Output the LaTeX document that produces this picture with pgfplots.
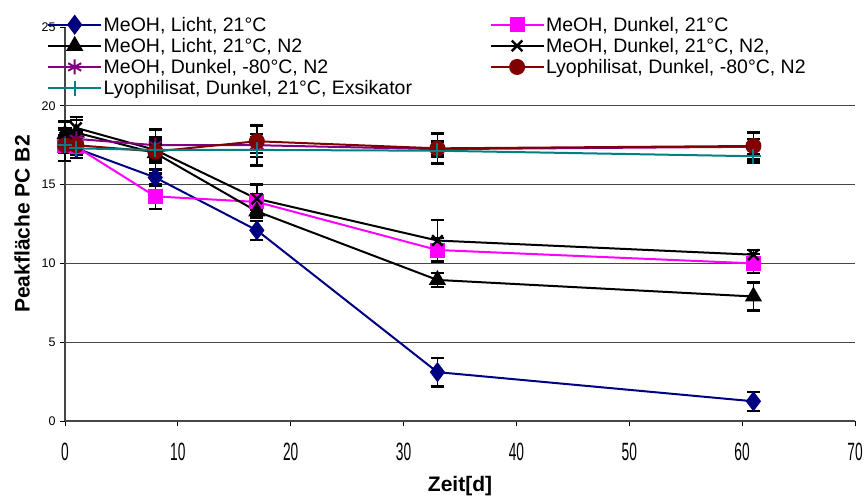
\documentclass[border=0pt]{standalone}
\usepackage{fontspec}
\setmainfont{Liberation Sans}
\usepackage{graphicx}
\usepackage{pgfplots}
\pgfplotsset{compat=1.18}
\usepackage{pgfplotstable}

\pgfplotstableread{
x y e
0 17.6 0.3
1 17.3 0.3
8 15.45 0.5
17 12.1 0.6
33 3.1 0.9
61 1.25 0.6
}\sA
\pgfplotstableread{
x y e
0 17.5 0.5
1 17.4 0.5
8 14.25 0.8
17 13.9 0.5
33 10.85 0.75
61 10.0 0.6
}\sB
\pgfplotstableread{
x y e
0 18.2 0.8
1 18.3 0.8
8 17.0 0.6
17 13.3 0.4
33 8.95 0.45
61 7.9 0.9
}\sC
\pgfplotstableread{
x y e
0 18.0 0.6
1 18.6 0.7
8 17.2 0.6
17 14.1 0.9
33 11.45 1.3
61 10.55 0.3
}\sD
\pgfplotstableread{
x y e
0 17.6 0.5
1 17.9 0.5
8 17.5 0.5
17 17.5 0.5
33 17.25 0.5
61 17.4 0.5
}\sE
\pgfplotstableread{
x y e
0 17.5 1.0
1 17.5 0.8
8 17.1 1.4
17 17.75 1.0
33 17.3 0.95
61 17.45 0.85
}\sF
\pgfplotstableread{
x y e
0 17.5 0.3
1 17.3 0.3
8 17.2 0.3
17 17.2 1.0
33 17.15 0.3
61 16.8 0.4
}\sG

\definecolor{sNavy}{RGB}{0,0,128}
\definecolor{sMag}{RGB}{255,0,255}
\definecolor{sPurp}{RGB}{128,0,128}
\definecolor{sRed}{RGB}{128,0,0}
\definecolor{sTeal}{RGB}{0,128,128}
\definecolor{gridc}{RGB}{70,70,70}

\begin{document}
\begin{tikzpicture}
\begin{axis}[
  scale only axis,
  width=790bp, height=394bp,
  xmin=0, xmax=70, ymin=0, ymax=25,
  xtick={0,10,...,70}, ytick={0,5,...,20},
  extra y ticks={25},
  extra y tick style={grid=none},
  axis lines=left,
  axis line style={-, gridc, line width=1.2bp},
  ymajorgrids,
  grid style={gridc, line width=1.2bp},
  tick style={black, line width=0.8bp},
  tick align=outside,
  major tick length=5bp,
  clip=false,
  /pgf/number format/assume math mode=true,
  yticklabel style={font=\fontsize{12.5bp}{14bp}\selectfont, xshift=-1bp},
  xticklabel={\scalebox{0.55}[1]{\pgfmathprintnumber{\tick}}},
  xticklabel style={font=\fontsize{25bp}{27bp}\selectfont, yshift=-14bp},
  xlabel={Zeit[d]},
  ylabel={Peakfläche PC B2},
  xlabel style={font=\bfseries\fontsize{21bp}{24bp}\selectfont, at={(axis description cs:0.5,-0.165)}, anchor=center},
  ylabel style={font=\bfseries\fontsize{21bp}{24bp}\selectfont, at={(axis description cs:-0.0544,0.5)}, anchor=center},
  legend columns=2,
  legend cell align=left,
  legend style={
    draw=none, fill=none, inner sep=2bp,
    at={(axis description cs:-0.0253,1.035)}, anchor=north west,
    font=\fontsize{19.5bp}{21bp}\selectfont,
    row sep=2.5bp,
    nodes={inner sep=1.5bp},
    /tikz/every even column/.append style={column sep=76bp},
  },
  legend image code/.code={\draw[mark repeat=2,mark phase=2] plot coordinates {(0bp,0bp)(26.5bp,0bp)(53bp,0bp)};},
  every axis plot/.append style={line width=2bp},
  error bars/y dir=both, error bars/y explicit,
  error bars/error bar style={black, line width=1.5bp, solid},
  error bars/error mark options={black, rotate=90, mark size=6.5bp, line width=2.5bp, solid},
]
\addplot[sNavy, mark=diamond*, mark size=8.5bp, mark options={solid, fill=sNavy}] table[x=x, y=y, y error=e] {\sA};
\addlegendentry{MeOH, Licht, 21°C}
\addplot[sMag, mark=square*, mark size=6.5bp, mark options={solid, fill=sMag}] table[x=x, y=y, y error=e] {\sB};
\addlegendentry{MeOH, Dunkel, 21°C}
\addplot[black, mark=triangle*, mark size=8bp, mark options={solid, fill=black}] table[x=x, y=y, y error=e] {\sC};
\addlegendentry{MeOH, Licht, 21°C, N2}
\addplot[black, mark=x, mark size=7.5bp, mark options={solid, line width=2.4bp}] table[x=x, y=y, y error=e] {\sD};
\addlegendentry{MeOH, Dunkel, 21°C, N2,}
\addplot[sPurp, mark=asterisk, mark size=7.5bp, mark options={solid, line width=2bp}] table[x=x, y=y, y error=e] {\sE};
\addlegendentry{MeOH, Dunkel, -80°C, N2}
\addplot[sRed, mark=*, mark size=7bp, mark options={solid, fill=sRed}] table[x=x, y=y, y error=e] {\sF};
\addlegendentry{Lyophilisat, Dunkel, -80°C, N2}
\addplot[sTeal, mark=+, mark size=7.5bp, mark options={solid, line width=2bp}] table[x=x, y=y, y error=e] {\sG};
\addlegendentry{Lyophilisat, Dunkel, 21°C, Exsikator}
\end{axis}
\path (current axis.south west) ++(-65bp,-76bp) coordinate (bl);
\pgfresetboundingbox
\path (bl) rectangle ++(865bp,497bp);
\end{tikzpicture}
\end{document}
